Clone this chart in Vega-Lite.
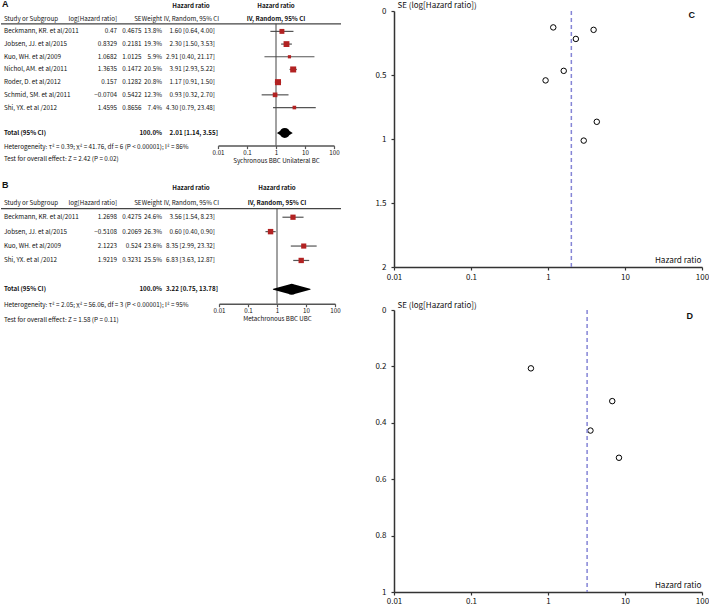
{
  "$schema": "https://vega.github.io/schema/vega-lite/v6.json",
  "padding": 0,
  "background": "white",
  "spacing": 32,
  "config": {
    "view": {"stroke": null},
    "font": "Noto Sans CJK SC",
    "text": {"font": "Noto Sans CJK SC", "color": "#111"},
    "axis": {"grid": false, "labelFont": "Noto Sans CJK SC", "titleFont": "Noto Sans CJK SC", "labelColor": "#111", "titleColor": "#111", "titleFontWeight": "normal"}
  },
  "datasets": {
    "studiesA": [
      {"row": 1, "study": "Beckmann, KR. et al/2011", "loghr": 0.47, "se": 0.4675, "weight": 0.138, "ci": "1.60 [0.64, 4.00]", "hr": 1.60, "lo": 0.64, "hi": 4.00},
      {"row": 2, "study": "Jobsen, JJ. et al/2015", "loghr": 0.8329, "se": 0.2181, "weight": 0.193, "ci": "2.30 [1.50, 3.53]", "hr": 2.30, "lo": 1.50, "hi": 3.53},
      {"row": 3, "study": "Kuo, WH. et al/2009", "loghr": 1.0682, "se": 1.0125, "weight": 0.059, "ci": "2.91 [0.40, 21.17]", "hr": 2.91, "lo": 0.40, "hi": 21.17},
      {"row": 4, "study": "Nichol, AM. et al/2011", "loghr": 1.3635, "se": 0.1472, "weight": 0.205, "ci": "3.91 [2.93, 5.22]", "hr": 3.91, "lo": 2.93, "hi": 5.22},
      {"row": 5, "study": "Roder, D. et al/2012", "loghr": 0.157, "se": 0.1282, "weight": 0.208, "ci": "1.17 [0.91, 1.50]", "hr": 1.17, "lo": 0.91, "hi": 1.50},
      {"row": 6, "study": "Schmid, SM. et al/2011", "loghr": -0.0704, "se": 0.5422, "weight": 0.123, "ci": "0.93 [0.32, 2.70]", "hr": 0.93, "lo": 0.32, "hi": 2.70},
      {"row": 7, "study": "Shi, YX. et al /2012", "loghr": 1.4595, "se": 0.8656, "weight": 0.074, "ci": "4.30 [0.79, 23.48]", "hr": 4.30, "lo": 0.79, "hi": 23.48}
    ],
    "totalA": [{"row": 9, "label": "Total (95% CI)", "weight": 1, "ci": "2.01 [1.14, 3.55]", "hr": 2.01, "lo": 1.14, "hi": 3.55}],
    "notesA": [
      {"row": 10, "note": "Heterogeneity: τ² = 0.39; χ² = 41.76, df = 6 (P < 0.00001); I² = 86%"},
      {"row": 11, "note": "Test for overall effect: Z = 2.42 (P = 0.02)"}
    ],
    "studiesB": [
      {"row": 1, "study": "Beckmann, KR. et al/2011", "loghr": 1.2698, "se": 0.4275, "weight": 0.246, "ci": "3.56 [1.54, 8.23]", "hr": 3.56, "lo": 1.54, "hi": 8.23},
      {"row": 2, "study": "Jobsen, JJ. et al/2015", "loghr": -0.5108, "se": 0.2069, "weight": 0.263, "ci": "0.60 [0.40, 0.90]", "hr": 0.60, "lo": 0.40, "hi": 0.90},
      {"row": 3, "study": "Kuo, WH. et al/2009", "loghr": 2.1223, "se": 0.524, "weight": 0.236, "ci": "8.35 [2.99, 23.32]", "hr": 8.35, "lo": 2.99, "hi": 23.32},
      {"row": 4, "study": "Shi, YX. et al /2012", "loghr": 1.9219, "se": 0.3231, "weight": 0.255, "ci": "6.83 [3.63, 12.87]", "hr": 6.83, "lo": 3.63, "hi": 12.87}
    ],
    "totalB": [{"row": 6, "label": "Total (95% CI)", "weight": 1, "ci": "3.22 [0.75, 13.78]", "hr": 3.22, "lo": 0.75, "hi": 13.78}],
    "notesB": [
      {"row": 7, "note": "Heterogeneity: τ² = 2.05; χ² = 56.06, df = 3 (P < 0.00001); I² = 95%"},
      {"row": 8, "note": "Test for overall effect: Z = 1.58 (P = 0.11)"}
    ],
    "headers": [
      {"row": -1, "col": 4, "label": "Hazard ratio"},
      {"row": 0, "col": 0, "label": "Study or Subgroup"},
      {"row": 0, "col": 1, "label": "log[Hazard ratio]"},
      {"row": 0, "col": 2, "label": "SE"},
      {"row": 0, "col": 3, "label": "Weight"},
      {"row": 0, "col": 4, "label": "IV, Random, 95% CI"}
    ],
    "plotHeaders": [
      {"row": -1, "label": "Hazard ratio"},
      {"row": 0, "label": "IV, Random, 95% CI"}
    ]
  },
  "hconcat": [
    {
      "bounds": "flush",
      "spacing": 33.4,
      "vconcat": [
        {
          "width": 340,
          "height": 134.6,
          "resolve": {"scale": {"x": "independent"}},
          "layer": [
            {
              "layer": [
                {"data": {"name": "studiesA"}, "mark": {"type": "text", "align": "left", "baseline": "middle", "fontSize": 6.3},
                 "encoding": {"x": {"datum": 0, "type": "quantitative", "scale": {"domain": [0, 1, 2, 3, 4], "range": [3, 116, 140.5, 161, 214], "nice": false, "zero": false}, "axis": null},
                              "y": {"field": "row", "type": "quantitative", "scale": {"domain": [-0.607, 10], "reverse": true, "nice": false, "zero": false}, "axis": null},
                              "text": {"field": "study"}}},
                {"data": {"name": "studiesA"}, "mark": {"type": "text", "align": "right", "baseline": "middle", "fontSize": 6.3},
                 "encoding": {"x": {"datum": 1, "type": "quantitative", "axis": null}, "y": {"field": "row", "type": "quantitative", "axis": null}, "text": {"field": "loghr", "format": "~g"}}},
                {"data": {"name": "studiesA"}, "mark": {"type": "text", "align": "right", "baseline": "middle", "fontSize": 6.3},
                 "encoding": {"x": {"datum": 2, "type": "quantitative", "axis": null}, "y": {"field": "row", "type": "quantitative", "axis": null}, "text": {"field": "se", "format": "~g"}}},
                {"data": {"name": "studiesA"}, "mark": {"type": "text", "align": "right", "baseline": "middle", "fontSize": 6.3},
                 "encoding": {"x": {"datum": 3, "type": "quantitative", "axis": null}, "y": {"field": "row", "type": "quantitative", "axis": null}, "text": {"field": "weight", "format": ".1%"}}},
                {"data": {"name": "studiesA"}, "mark": {"type": "text", "align": "right", "baseline": "middle", "fontSize": 6.3},
                 "encoding": {"x": {"datum": 4, "type": "quantitative", "axis": null}, "y": {"field": "row", "type": "quantitative", "axis": null}, "text": {"field": "ci"}}},
                {"data": {"name": "totalA"}, "mark": {"type": "text", "align": "left", "baseline": "middle", "fontSize": 6.2, "fontWeight": "bold"},
                 "encoding": {"x": {"datum": 0, "type": "quantitative", "axis": null}, "y": {"field": "row", "type": "quantitative", "axis": null}, "text": {"field": "label"}}},
                {"data": {"name": "totalA"}, "mark": {"type": "text", "align": "right", "baseline": "middle", "fontSize": 6.2, "fontWeight": "bold"},
                 "encoding": {"x": {"datum": 3, "type": "quantitative", "axis": null}, "y": {"field": "row", "type": "quantitative", "axis": null}, "text": {"field": "weight", "format": ".1%"}}},
                {"data": {"name": "totalA"}, "mark": {"type": "text", "align": "right", "baseline": "middle", "fontSize": 6.2, "fontWeight": "bold", "dx": 3},
                 "encoding": {"x": {"datum": 4, "type": "quantitative", "axis": null}, "y": {"field": "row", "type": "quantitative", "axis": null}, "text": {"field": "ci"}}},
                {"data": {"name": "notesA"}, "mark": {"type": "text", "align": "left", "baseline": "middle", "fontSize": 6.3, "dy": 1},
                 "encoding": {"x": {"datum": 0, "type": "quantitative", "axis": null}, "y": {"field": "row", "type": "quantitative", "axis": null}, "text": {"field": "note"}}},
                {"data": {"name": "headers"}, "transform": [{"filter": "datum.col == 0"}], "mark": {"type": "text", "align": "left", "baseline": "middle", "fontSize": 6.2},
                 "encoding": {"x": {"field": "col", "type": "quantitative", "axis": null}, "y": {"field": "row", "type": "quantitative", "axis": null}, "text": {"field": "label"}}},
                {"data": {"name": "headers"}, "transform": [{"filter": "datum.col > 0 && datum.col < 4 && datum.row == 0"}], "mark": {"type": "text", "align": "right", "baseline": "middle", "fontSize": 6.2},
                 "encoding": {"x": {"field": "col", "type": "quantitative", "axis": null}, "y": {"field": "row", "type": "quantitative", "axis": null}, "text": {"field": "label"}}},
                {"data": {"name": "headers"}, "transform": [{"filter": "datum.col == 4 && datum.row == 0"}], "mark": {"type": "text", "align": "right", "baseline": "middle", "fontSize": 6.2, "dx": 4},
                 "encoding": {"x": {"field": "col", "type": "quantitative", "axis": null}, "y": {"field": "row", "type": "quantitative", "axis": null}, "text": {"field": "label"}}},
                {"data": {"name": "headers"}, "transform": [{"filter": "datum.row == -1"}], "mark": {"type": "text", "align": "center", "baseline": "middle", "fontSize": 6.2, "fontWeight": "bold", "dx": -24},
                 "encoding": {"x": {"field": "col", "type": "quantitative", "axis": null}, "y": {"field": "row", "type": "quantitative", "axis": null}, "text": {"field": "label"}}},
                {"data": {"values": [{"panel": "A"}]}, "mark": {"type": "text", "align": "left", "baseline": "middle", "font": "Liberation Sans", "fontSize": 9, "fontWeight": "bold", "dx": -2, "dy": -2},
                 "encoding": {"x": {"datum": 0, "type": "quantitative", "axis": null}, "y": {"datum": -1, "type": "quantitative", "axis": null}, "text": {"field": "panel"}}},
                {"data": {"values": [{"panel": "A"}]}, "mark": {"type": "rule", "color": "#444", "strokeWidth": 1.3},
                 "encoding": {"y": {"datum": 0.4, "type": "quantitative", "axis": null}}}
              ]
            },
            {
              "layer": [
                {"data": {"name": "studiesA"}, "mark": {"type": "rule", "color": "#555", "strokeWidth": 1.2},
                 "encoding": {"x": {"field": "lo", "type": "quantitative", "title": "Sychronous BBC  Unilateral BC",
                                    "scale": {"type": "log", "domain": [0.01, 100], "range": [217, 333], "nice": false},
                                    "axis": {"orient": "bottom", "values": [0.01, 0.1, 1, 10, 100], "format": "~g", "labelFlush": false, "tickSize": 3, "labelPadding": 1, "labelFontSize": 6.2, "titleFontSize": 6.2, "titlePadding": 2, "domainColor": "#555", "domainWidth": 1.5, "tickColor": "#555", "tickWidth": 1.2}},
                              "x2": {"field": "hi"},
                              "y": {"field": "row", "type": "quantitative", "axis": null}}},
                {"data": {"name": "totalA"}, "mark": {"type": "rule", "color": "#444", "strokeWidth": 1},
                 "encoding": {"x": {"datum": 1, "type": "quantitative"},
                              "y": {"datum": 0.4, "type": "quantitative", "axis": null}, "y2": {"datum": 10}}},
                {"data": {"name": "studiesA"}, "mark": {"type": "point", "shape": "square", "filled": true, "color": "#b22222", "opacity": 1},
                 "encoding": {"x": {"field": "hr", "type": "quantitative"}, "y": {"field": "row", "type": "quantitative", "axis": null},
                              "size": {"field": "weight", "type": "quantitative", "scale": {"domain": [0, 0.25], "range": [0, 44]}, "legend": null}}},
                {"data": {"name": "totalA"}, "transform": [{"fold": ["lo", "hr", "hi"], "as": ["key", "val"]}], "mark": {"type": "trail", "color": "black"},
                 "encoding": {"x": {"field": "val", "type": "quantitative"}, "y": {"field": "row", "type": "quantitative", "axis": null},
                              "size": {"field": "key", "type": "nominal", "scale": {"type": "ordinal", "domain": ["lo", "hr", "hi"], "range": [0, 10, 0]}, "legend": null}}},
                {"data": {"name": "plotHeaders"}, "mark": {"type": "text", "align": "center", "baseline": "middle", "fontSize": 6.2, "fontWeight": "bold"},
                 "encoding": {"x": {"datum": 1, "type": "quantitative"}, "y": {"field": "row", "type": "quantitative", "axis": null}, "text": {"field": "label"}}}
              ]
            }
          ]
        },
        {
          "width": 340,
          "height": 124.3,
          "resolve": {"scale": {"x": "independent"}},
          "layer": [
            {
              "layer": [
                {"data": {"name": "studiesB"}, "mark": {"type": "text", "align": "left", "baseline": "middle", "fontSize": 6.3},
                 "encoding": {"x": {"datum": 0, "type": "quantitative", "scale": {"domain": [0, 1, 2, 3, 4], "range": [3, 116, 140.5, 161, 214], "nice": false, "zero": false}, "axis": null},
                              "y": {"field": "row", "type": "quantitative", "scale": {"domain": [-1.624, 7], "reverse": true, "nice": false, "zero": false}, "axis": null},
                              "text": {"field": "study"}}},
                {"data": {"name": "studiesB"}, "mark": {"type": "text", "align": "right", "baseline": "middle", "fontSize": 6.3},
                 "encoding": {"x": {"datum": 1, "type": "quantitative", "axis": null}, "y": {"field": "row", "type": "quantitative", "axis": null}, "text": {"field": "loghr", "format": "~g"}}},
                {"data": {"name": "studiesB"}, "mark": {"type": "text", "align": "right", "baseline": "middle", "fontSize": 6.3},
                 "encoding": {"x": {"datum": 2, "type": "quantitative", "axis": null}, "y": {"field": "row", "type": "quantitative", "axis": null}, "text": {"field": "se", "format": "~g"}}},
                {"data": {"name": "studiesB"}, "mark": {"type": "text", "align": "right", "baseline": "middle", "fontSize": 6.3},
                 "encoding": {"x": {"datum": 3, "type": "quantitative", "axis": null}, "y": {"field": "row", "type": "quantitative", "axis": null}, "text": {"field": "weight", "format": ".1%"}}},
                {"data": {"name": "studiesB"}, "mark": {"type": "text", "align": "right", "baseline": "middle", "fontSize": 6.3},
                 "encoding": {"x": {"datum": 4, "type": "quantitative", "axis": null}, "y": {"field": "row", "type": "quantitative", "axis": null}, "text": {"field": "ci"}}},
                {"data": {"name": "totalB"}, "mark": {"type": "text", "align": "left", "baseline": "middle", "fontSize": 6.2, "fontWeight": "bold"},
                 "encoding": {"x": {"datum": 0, "type": "quantitative", "axis": null}, "y": {"field": "row", "type": "quantitative", "axis": null}, "text": {"field": "label"}}},
                {"data": {"name": "totalB"}, "mark": {"type": "text", "align": "right", "baseline": "middle", "fontSize": 6.2, "fontWeight": "bold"},
                 "encoding": {"x": {"datum": 3, "type": "quantitative", "axis": null}, "y": {"field": "row", "type": "quantitative", "axis": null}, "text": {"field": "weight", "format": ".1%"}}},
                {"data": {"name": "totalB"}, "mark": {"type": "text", "align": "right", "baseline": "middle", "fontSize": 6.2, "fontWeight": "bold", "dx": 3},
                 "encoding": {"x": {"datum": 4, "type": "quantitative", "axis": null}, "y": {"field": "row", "type": "quantitative", "axis": null}, "text": {"field": "ci"}}},
                {"data": {"name": "notesB"}, "mark": {"type": "text", "align": "left", "baseline": "middle", "fontSize": 6.3, "dy": 1.5},
                 "encoding": {"x": {"datum": 0, "type": "quantitative", "axis": null}, "y": {"field": "row", "type": "quantitative", "axis": null}, "text": {"field": "note"}}},
                {"data": {"name": "headers"}, "transform": [{"filter": "datum.col == 0"}], "mark": {"type": "text", "align": "left", "baseline": "middle", "fontSize": 6.2},
                 "encoding": {"x": {"field": "col", "type": "quantitative", "axis": null}, "y": {"field": "row", "type": "quantitative", "axis": null}, "text": {"field": "label"}}},
                {"data": {"name": "headers"}, "transform": [{"filter": "datum.col > 0 && datum.col < 4 && datum.row == 0"}], "mark": {"type": "text", "align": "right", "baseline": "middle", "fontSize": 6.2},
                 "encoding": {"x": {"field": "col", "type": "quantitative", "axis": null}, "y": {"field": "row", "type": "quantitative", "axis": null}, "text": {"field": "label"}}},
                {"data": {"name": "headers"}, "transform": [{"filter": "datum.col == 4 && datum.row == 0"}], "mark": {"type": "text", "align": "right", "baseline": "middle", "fontSize": 6.2, "dx": 4},
                 "encoding": {"x": {"field": "col", "type": "quantitative", "axis": null}, "y": {"field": "row", "type": "quantitative", "axis": null}, "text": {"field": "label"}}},
                {"data": {"name": "headers"}, "transform": [{"filter": "datum.row == -1"}], "mark": {"type": "text", "align": "center", "baseline": "middle", "fontSize": 6.2, "fontWeight": "bold", "dx": -24},
                 "encoding": {"x": {"field": "col", "type": "quantitative", "axis": null}, "y": {"field": "row", "type": "quantitative", "axis": null}, "text": {"field": "label"}}},
                {"data": {"values": [{"panel": "B"}]}, "mark": {"type": "text", "align": "left", "baseline": "middle", "font": "Liberation Sans", "fontSize": 9, "fontWeight": "bold", "dx": -2, "dy": -3},
                 "encoding": {"x": {"datum": 0, "type": "quantitative", "axis": null}, "y": {"datum": -1, "type": "quantitative", "axis": null}, "text": {"field": "panel"}}},
                {"data": {"values": [{"panel": "B"}]}, "mark": {"type": "rule", "color": "#444", "strokeWidth": 1.3},
                 "encoding": {"y": {"datum": 0.4, "type": "quantitative", "axis": null}}}
              ]
            },
            {
              "layer": [
                {"data": {"name": "studiesB"}, "mark": {"type": "rule", "color": "#555", "strokeWidth": 1.2},
                 "encoding": {"x": {"field": "lo", "type": "quantitative", "title": "Metachronous BBC  UBC",
                                    "scale": {"type": "log", "domain": [0.01, 100], "range": [218, 334], "nice": false},
                                    "axis": {"orient": "bottom", "values": [0.01, 0.1, 1, 10, 100], "format": "~g", "labelFlush": false, "tickSize": 3, "labelPadding": 1, "labelFontSize": 6.2, "titleFontSize": 6.2, "titlePadding": 2, "domainColor": "#555", "domainWidth": 1.5, "tickColor": "#555", "tickWidth": 1.2}},
                              "x2": {"field": "hi"},
                              "y": {"field": "row", "type": "quantitative", "axis": null}}},
                {"data": {"name": "totalB"}, "mark": {"type": "rule", "color": "#444", "strokeWidth": 1},
                 "encoding": {"x": {"datum": 1, "type": "quantitative"},
                              "y": {"datum": 0.4, "type": "quantitative", "axis": null}, "y2": {"datum": 7}}},
                {"data": {"name": "studiesB"}, "mark": {"type": "point", "shape": "square", "filled": true, "color": "#b22222", "opacity": 1},
                 "encoding": {"x": {"field": "hr", "type": "quantitative"}, "y": {"field": "row", "type": "quantitative", "axis": null},
                              "size": {"field": "weight", "type": "quantitative", "scale": {"domain": [0, 0.25], "range": [0, 28]}, "legend": null}}},
                {"data": {"name": "totalB"}, "transform": [{"fold": ["lo", "hr", "hi"], "as": ["key", "val"]}], "mark": {"type": "trail", "color": "black"},
                 "encoding": {"x": {"field": "val", "type": "quantitative"}, "y": {"field": "row", "type": "quantitative", "axis": null},
                              "size": {"field": "key", "type": "nominal", "scale": {"type": "ordinal", "domain": ["lo", "hr", "hi"], "range": [0, 11, 0]}, "legend": null}}},
                {"data": {"name": "plotHeaders"}, "mark": {"type": "text", "align": "center", "baseline": "middle", "fontSize": 6.2, "fontWeight": "bold"},
                 "encoding": {"x": {"datum": 1, "type": "quantitative"}, "y": {"field": "row", "type": "quantitative", "axis": null}, "text": {"field": "label"}}}
              ]
            }
          ]
        }
      ]
    },
    {
      "bounds": "flush",
      "spacing": 43,
      "vconcat": [
        {
          "width": 308,
          "height": 256,
          "layer": [
            {"data": {"name": "studiesA"}, "mark": {"type": "point", "shape": "circle", "filled": false, "size": 30, "stroke": "black", "strokeWidth": 1, "opacity": 1},
             "encoding": {
               "x": {"field": "hr", "type": "quantitative", "title": "Hazard ratio",
                     "scale": {"type": "log", "domain": [0.01, 100], "nice": false},
                     "axis": {"values": [0.01, 0.1, 1, 10, 100], "format": "~g", "labelFlush": false, "tickSize": 3, "labelPadding": 3, "labelFontSize": 8, "titleFontSize": 8.2, "domainColor": "#333", "domainWidth": 1.5, "tickColor": "#333", "tickWidth": 1.2, "titleAnchor": "end", "titleAlign": "right", "titleBaseline": "bottom", "titleX": 307, "titleY": -3}},
               "y": {"field": "se", "type": "quantitative", "title": "SE (log[Hazard ratio])",
                     "scale": {"domain": [0, 2], "reverse": true, "nice": false, "zero": false},
                     "axis": {"values": [0, 0.5, 1, 1.5, 2], "format": "~g", "tickSize": 3, "labelPadding": 5, "labelFontSize": 8, "titleFontSize": 8, "domainColor": "#333", "domainWidth": 1.5, "tickColor": "#333", "tickWidth": 1.2, "titleAngle": 0, "titleAlign": "left", "titleBaseline": "middle", "titleX": 3, "titleY": -6}}
             }},
            {"data": {"name": "totalA"}, "mark": {"type": "rule", "stroke": "#8585d6", "strokeDash": [4, 3], "strokeWidth": 1.5},
             "encoding": {"x": {"field": "hr", "type": "quantitative"}}},
            {"data": {"values": [{"panel": "C"}]}, "mark": {"type": "text", "align": "right", "baseline": "middle", "font": "Liberation Sans", "fontSize": 9, "fontWeight": "bold", "dx": -7, "dy": 3.5},
             "encoding": {"x": {"datum": 100, "type": "quantitative"}, "y": {"datum": 0, "type": "quantitative"}, "text": {"field": "panel"}}}
          ]
        },
        {
          "width": 308,
          "height": 282,
          "layer": [
            {"data": {"name": "studiesB"}, "mark": {"type": "point", "shape": "circle", "filled": false, "size": 30, "stroke": "black", "strokeWidth": 1, "opacity": 1},
             "encoding": {
               "x": {"field": "hr", "type": "quantitative", "title": "Hazard ratio",
                     "scale": {"type": "log", "domain": [0.01, 100], "nice": false},
                     "axis": {"values": [0.01, 0.1, 1, 10, 100], "format": "~g", "labelFlush": false, "tickSize": 3, "labelPadding": 2, "labelFontSize": 8, "titleFontSize": 8.2, "domainColor": "#333", "domainWidth": 1.5, "tickColor": "#333", "tickWidth": 1.2, "titleAnchor": "end", "titleAlign": "right", "titleBaseline": "bottom", "titleX": 307, "titleY": -3}},
               "y": {"field": "se", "type": "quantitative", "title": "SE (log[Hazard ratio])",
                     "scale": {"domain": [0, 1], "reverse": true, "nice": false, "zero": false},
                     "axis": {"values": [0, 0.2, 0.4, 0.6, 0.8, 1], "format": "~g", "tickSize": 3, "labelPadding": 5, "labelFontSize": 8, "titleFontSize": 8, "domainColor": "#333", "domainWidth": 1.5, "tickColor": "#333", "tickWidth": 1.2, "titleAngle": 0, "titleAlign": "left", "titleBaseline": "middle", "titleX": 3, "titleY": -5}}
             }},
            {"data": {"name": "totalB"}, "mark": {"type": "rule", "stroke": "#8585d6", "strokeDash": [4, 3], "strokeWidth": 1.5},
             "encoding": {"x": {"field": "hr", "type": "quantitative"}}},
            {"data": {"values": [{"panel": "D"}]}, "mark": {"type": "text", "align": "right", "baseline": "middle", "font": "Liberation Sans", "fontSize": 9, "fontWeight": "bold", "dx": -9, "dy": 5.5},
             "encoding": {"x": {"datum": 100, "type": "quantitative"}, "y": {"datum": 0, "type": "quantitative"}, "text": {"field": "panel"}}}
          ]
        }
      ]
    }
  ]
}
